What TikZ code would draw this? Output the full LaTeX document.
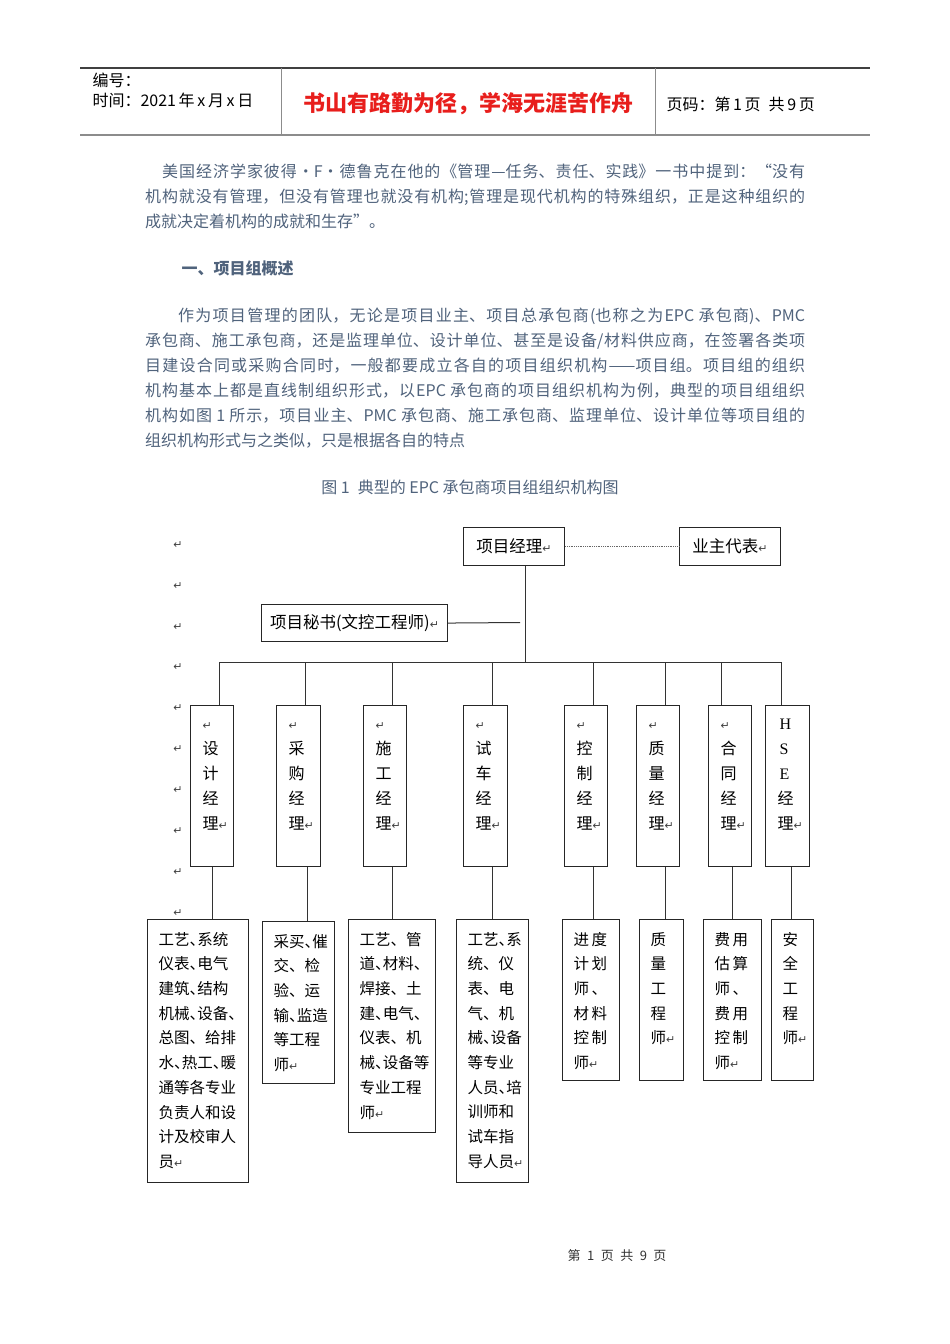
\documentclass[tikz,border=0pt]{standalone}
\usepackage{fontspec}
\setmainfont{Noto Sans CJK SC}
\newfontfamily\retfont{DejaVu Sans}
\newfontfamily\latinserif{Liberation Serif}
\usetikzlibrary{positioning}

\definecolor{bodytext}{RGB}{80,99,124}
\definecolor{titlered}{RGB}{232,30,28}
\definecolor{rulegray}{RGB}{140,140,140}

% Marcas de parrafo y ayudas de texto
\newcommand{\ret}{{\retfont\fontsize{11}{11}\selectfont\color{black!75}↵}}
\newcommand{\dun}{\makebox[0.5em][l]{、}}
\newcommand{\tp}{\rule{0pt}{13pt}}
\newcommand{\nolocale}{\XeTeXlinebreaklocale ""\relax}
\newcommand{\cell}[3]{\parbox[c][#2][t]{#1}{\nolocale\raggedright\tp #3}}
\newcommand{\parafont}{\fontsize{16}{25}\selectfont
    \XeTeXlinebreaklocale "zh"\XeTeXlinebreakskip=0pt plus 3pt\relax}

\tikzset{
    para/.style={
        anchor=north west,
        inner sep=0pt,
        text=bodytext,
        text width=660pt,
        align=justify,
        font=\parafont
    },
    topbox/.style={
        draw=black!85,
        line width=1.1pt,
        anchor=north west,
        minimum height=38pt,
        inner sep=0pt,
        font=\nolocale\fontsize{16.5}{16.5}\selectfont
    },
    mgr/.style={
        draw=black!85,
        line width=1.1pt,
        anchor=north west,
        inner xsep=12pt,
        inner ysep=11pt,
        font=\fontsize{16}{25}\selectfont
    },
    team/.style={
        draw=black!85,
        line width=1.1pt,
        anchor=north west,
        inner xsep=11pt,
        inner ysep=12.5pt,
        font=\fontsize{15.5}{24.7}\selectfont
    },
    link/.style={
        draw=black!80,
        line width=1pt
    },
    retmark/.style={
        inner sep=0pt
    }
}

\begin{document}
\begin{tikzpicture}[
    x=1pt,
    y=-1pt
]

    \useasboundingbox (0,0) rectangle (950,1344);
    \fill[white] (0,0) rectangle (950,1344);

    % Cabecera de pagina
    \draw[black!75, line width=1.2pt] (80,68) -- (870,68);
    \draw[rulegray, line width=2.4pt] (80,135) -- (870,135);
    \draw[rulegray, line width=1pt] (281,68) -- (281,135) (655,68) -- (655,135);
    \node[anchor=west, font=\nolocale\fontsize{16}{16}\selectfont] (code) at (89,80) {编号：};
    \node[anchor=west, font=\nolocale\fontsize{16}{16}\selectfont] (date) at (89,100) {时间：2021\,年\,x\,月\,x\,日};
    \node[font=\nolocale\fontsize{22}{22}\selectfont\bfseries, text=titlered] (motto) at (468,104) {书山有路勤为径，学海无涯苦作舟};
    \node[anchor=west, font=\nolocale\fontsize{16}{16}\selectfont] (pageno) at (663,104) {页码：第\,1\,页\enspace 共\,9\,页};

    % Texto
    \node[para] (para1) at (145,163) {\noindent\hspace*{17pt}\rule{0pt}{14pt}美国经济学家彼得·F·德鲁克在他的《管理—任务、责任、实践》一书中提到：“没有\linebreak
        机构就没有管理，但没有管理也就没有机构;管理是现代机构的特殊组织，正是这种组织的\linebreak
        成就决定着机构的成就和生存”。};
    \node[anchor=west, text=bodytext, font=\nolocale\fontsize{16}{16}\selectfont\bfseries] (head1) at (178,268) {一、项目组概述};
    \node[para] (para2) at (145,307) {\noindent\hspace*{33pt}\rule{0pt}{14pt}作为项目管理的团队，无论是项目业主、项目总承包商(也称之为EPC 承包商)、PMC\linebreak
        承包商、施工承包商，还是监理单位、设计单位、甚至是设备/材料供应商，在签署各类项\linebreak
        目建设合同或采购合同时，一般都要成立各自的项目组织机构——项目组。项目组的组织\linebreak
        机构基本上都是直线制组织形式，以EPC 承包商的项目组织机构为例，典型的项目组组织\linebreak
        机构如图 1 所示，项目业主、PMC 承包商、施工承包商、监理单位、设计单位等项目组的\linebreak
        组织机构形式与之类似，只是根据各自的特点};
    \node[text=bodytext, font=\nolocale\fontsize{16}{16}\selectfont] (caption) at (470,487) {图 1\enspace 典型的 EPC 承包商项目组组织机构图};

    % Marcas de parrafo a la izquierda
    \foreach \y in {545,586,627,667,708,749,790,831,872,913}
        \node[retmark] (ret\y) at (178,\y) {\ret};

    % Direccion
    \node[topbox, minimum width=101pt] (pm)    at (463,527) {项目经理\ret};
    \node[topbox, minimum width=101pt] (owner) at (679,527) {业主代表\ret};
    \node[topbox, minimum width=186pt, minimum height=37pt] (sec) at (261,604) {项目秘书(文控工程师)\ret};

    % Gerentes
    \node[mgr] (m1) at (190,705) {\cell{19pt}{139pt}{\ret\\设\\计\\经\\理\ret}};
    \node[mgr] (m2) at (276,705) {\cell{20pt}{139pt}{\ret\\采\\购\\经\\理\ret}};
    \node[mgr] (m3) at (363,705) {\cell{19pt}{139pt}{\ret\\施\\工\\经\\理\ret}};
    \node[mgr] (m4) at (463,705) {\cell{20pt}{139pt}{\ret\\试\\车\\经\\理\ret}};
    \node[mgr] (m5) at (564,705) {\cell{19pt}{139pt}{\ret\\控\\制\\经\\理\ret}};
    \node[mgr] (m6) at (636,705) {\cell{19pt}{139pt}{\ret\\质\\量\\经\\理\ret}};
    \node[mgr] (m7) at (708,705) {\cell{19pt}{139pt}{\ret\\合\\同\\经\\理\ret}};
    \node[mgr] (m8) at (765,705) {\cell{20pt}{139pt}{\hspace*{2pt}{\latinserif H}\\\hspace*{2pt}{\latinserif S}\\\hspace*{2pt}{\latinserif E}\\经\\理\ret}};

    % Equipos
    \node[team] (t1) at (147,919) {\cell{79pt}{238pt}{工艺\dun{}系统\\仪表\dun{}电气\\建筑\dun{}结构\\机械\dun{}设备\dun\\总图、给排\\水\dun{}热工\dun{}暖\\通等各专业\\负责人和设\\计及校审人\\员\ret}};
    \node[team] (t2) at (262,921) {\cell{50pt}{137pt}{采买\dun{}催\\交、检\\验、运\\输\dun{}监造\\等工程\\师\ret}};
    \node[team] (t3) at (348,919) {\cell{65pt}{188pt}{工艺、管\\道\dun{}材料\dun\\焊接、土\\建\dun{}电气\dun\\仪表、机\\械\dun{}设备等\\专业工程\\师\ret}};
    \node[team] (t4) at (456,919) {\cell{50pt}{238pt}{工艺\dun{}系\\统、仪\\表、电\\气、机\\械\dun{}设备\\等专业\\人员\dun{}培\\训师和\\试车指\\导人员\ret}};
    \node[team] (t5) at (562,919) {\cell{35pt}{136pt}{进\,度\\计\,划\\师\,、\\材\,料\\控\,制\\师\ret}};
    \node[team] (t6) at (639,919) {\cell{22pt}{136pt}{质\\量\\工\\程\\师\ret}};
    \node[team] (t7) at (703,919) {\cell{36pt}{136pt}{费\,用\\估\,算\\师\,、\\费\,用\\控\,制\\师\ret}};
    \node[team] (t8) at (771,919) {\cell{20pt}{136pt}{安\\全\\工\\程\\师\ret}};

    % Conexiones
    \draw[black!60, densely dotted, line width=0.8pt] (pm) -- (owner);
    \coordinate (hub) at (525,662);
    \coordinate (secend) at (520,622.5);
    \draw[link] (pm.south -| hub) -- (hub);
    \draw[link] (sec.east) -- (secend);
    \coordinate (busl) at (219,662);
    \coordinate (busr) at (781,662);
    \draw[link] (busl) -- (busr);
    \foreach \i/\x in {1/219,2/305,3/392,4/492,5/593,6/665,7/721,8/781} {
        \coordinate (b\i) at (\x,662);
        \draw[link] (b\i) -- (b\i |- m\i.north);
    }
    \foreach \i/\x in {1/212,2/307,3/392,4/492,5/593,6/665,7/732,8/791}
        \draw[link] (m\i.south -| \x,0) -- (t\i.north -| \x,0);

    % Pie de pagina
    \node[font=\nolocale\fontsize{13}{13}\selectfont, text=black!80] (footer) at (617,1256) {第\enspace 1\enspace 页\enspace 共\enspace 9\enspace 页};

\end{tikzpicture}
\end{document}
